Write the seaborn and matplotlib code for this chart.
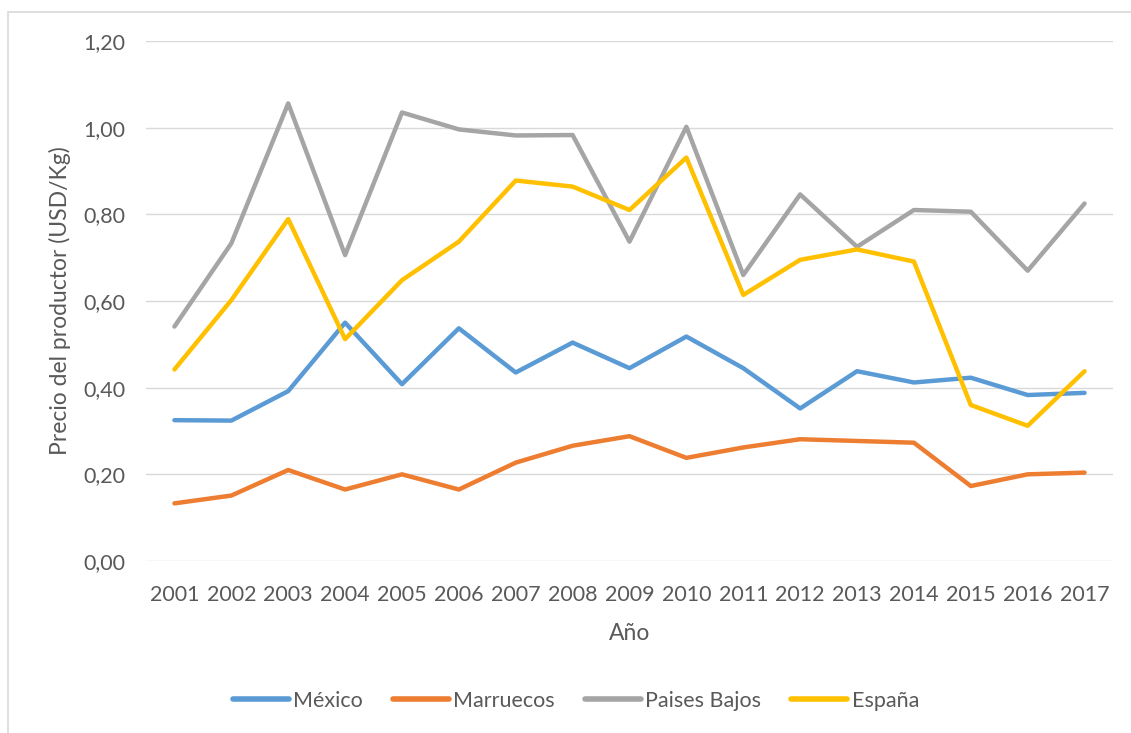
import matplotlib
matplotlib.use("Agg")
import matplotlib.pyplot as plt
from matplotlib.patches import Rectangle
from matplotlib.ticker import FuncFormatter
import seaborn as sns
import pandas as pd

years = list(range(2001, 2018))
mexico = [0.325, 0.324, 0.392, 0.550, 0.408, 0.537, 0.435, 0.504, 0.445, 0.518,
          0.445, 0.352, 0.438, 0.412, 0.423, 0.383, 0.388]
marruecos = [0.133, 0.151, 0.210, 0.165, 0.200, 0.165, 0.227, 0.266, 0.288, 0.238,
             0.262, 0.281, 0.277, 0.273, 0.173, 0.200, 0.204]
paises_bajos = [0.541, 0.733, 1.056, 0.706, 1.035, 0.996, 0.982, 0.983, 0.737, 1.002,
                0.660, 0.846, 0.725, 0.810, 0.806, 0.670, 0.825]
espana = [0.442, 0.602, 0.789, 0.512, 0.648, 0.737, 0.878, 0.864, 0.810, 0.931,
          0.614, 0.695, 0.719, 0.691, 0.360, 0.312, 0.438]

series_names = ["México", "Marruecos", "Paises Bajos", "España"]
series_colors = ["#5B9BD5", "#ED7D31", "#A5A5A5", "#FFC000"]

frames = []
for name, vals in zip(series_names, [mexico, marruecos, paises_bajos, espana]):
    frames.append(pd.DataFrame({"Año": years, "Precio": vals, "País": name}))
df = pd.concat(frames, ignore_index=True)

sns.set_theme(style="white")
plt.rcParams["font.family"] = ["Lato", "DejaVu Sans"]
text_color = "#595959"

fig = plt.figure(figsize=(11.31, 7.33), dpi=100)
ax = fig.add_axes([146 / 1131, 1 - 561 / 733, (1113 - 146) / 1131, 520 / 733])

sns.lineplot(data=df, x="Año", y="Precio", hue="País", hue_order=series_names,
             palette=series_colors, linewidth=3.2, ax=ax, legend=False,
             solid_capstyle="round", solid_joinstyle="round")

ax.set_xlim(years[0] - 0.5, years[-1] + 0.5)
ax.set_ylim(0, 1.2)
ax.set_xticks(years)
ax.set_xticklabels([str(y) for y in years])
ax.set_yticks([0.0, 0.2, 0.4, 0.6, 0.8, 1.0, 1.2])
ax.yaxis.set_major_formatter(FuncFormatter(lambda v, p: f"{v:.2f}".replace(".", ",")))
ax.grid(axis="y", color="#D9D9D9", linewidth=1.0)
ax.set_axisbelow(True)
for s in ax.spines.values():
    s.set_visible(False)
ax.tick_params(axis="both", length=0, labelsize=15.5, colors=text_color)
ax.tick_params(axis="y", pad=15)
ax.tick_params(axis="x", pad=17)

ax.set_xlabel("Año", fontsize=16.5, color=text_color, labelpad=13)
ax.set_ylabel("Precio del productor (USD/Kg)", fontsize=16.5, color=text_color, labelpad=9)

handles = [plt.Line2D([], [], color=c, linewidth=4, solid_capstyle="round") for c in series_colors]
fig.legend(handles, series_names, loc="center", bbox_to_anchor=(576 / 1131, 1 - 701 / 733),
           ncol=4, frameon=False, fontsize=15.5, handlelength=2.6, handletextpad=0.2,
           columnspacing=1.4, labelcolor=text_color)

fig.patches.append(Rectangle((7.5 / 1131, -0.1), 1.2, (1 - 12 / 733) + 0.1,
                             transform=fig.transFigure, fill=False,
                             edgecolor="#D9D9D9", linewidth=1.2, zorder=0))

fig.savefig("out.png", dpi=100)
